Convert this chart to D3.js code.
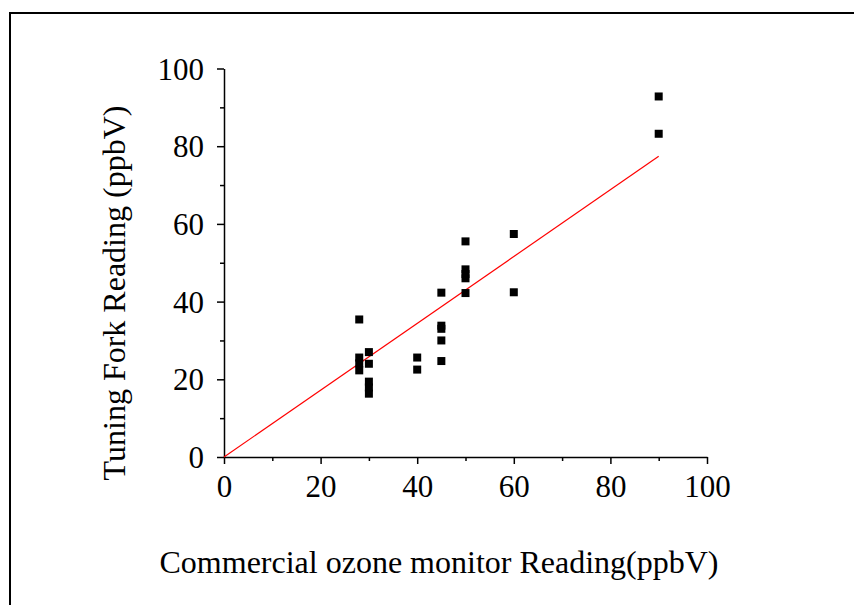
<!DOCTYPE html>
<html>
<head>
<meta charset="utf-8">
<script src="https://cdn.jsdelivr.net/npm/d3@7"></script>
<style>
  body { margin: 0; background: #fff; }
  svg text { font-family: "Liberation Serif", "Times New Roman", serif; fill: #000; }
</style>
</head>
<body>
<svg id="chart" width="854" height="605"></svg>
<script>
// commercial monitor reading (x) vs tuning fork reading (y), ppbV
const xVals = [28, 28, 28, 28, 30, 30, 30, 30, 30, 40, 40, 45, 45, 45, 45, 45, 50, 50, 50, 50, 50, 60, 60, 90, 90];
const yVals = [35.4, 25.6, 24.1, 22.3, 27.0, 24.0, 19.4, 17.9, 16.3, 25.6, 22.5, 42.3, 33.8, 33.0, 30.0, 24.7, 55.5, 48.3, 47.1, 46.0, 42.2, 57.4, 42.4, 92.8, 83.2];
// fitted line end points
const fitX = [0, 90];
const fitY = [0, 77.4];
const xTicks = [0, 20, 40, 60, 80, 100];
const yTicks = [0, 20, 40, 60, 80, 100];
const minorTicks = [10, 30, 50, 70, 90];

const svg = d3.select('#chart');
const margin = {top: 68.5, left: 224, right: 147, bottom: 148};
const width = 854 - margin.left - margin.right;
const height = 605 - margin.top - margin.bottom;

// outer frame (only top and left edges show)
svg.append('path')
    .attr('d', 'M10,605 L10,13 L854,13')
    .attr('fill', 'none')
    .attr('stroke', '#000')
    .attr('stroke-width', 2);

const g = svg.append('g')
    .attr('transform', `translate(${margin.left},${margin.top})`);

const x = d3.scaleLinear().domain([0, 100]).range([0, width]);
const y = d3.scaleLinear().domain([0, 100]).range([height, 0]);

// minor ticks
g.append('g')
    .attr('transform', `translate(0,${height})`)
    .call(d3.axisBottom(x).tickValues(minorTicks).tickSize(4).tickFormat(''))
    .call(a => a.select('.domain').remove());
g.append('g')
    .call(d3.axisLeft(y).tickValues(minorTicks).tickSize(4).tickFormat(''))
    .call(a => a.select('.domain').remove());

// major axes
const xAxis = g.append('g')
    .attr('transform', `translate(0,${height})`)
    .call(d3.axisBottom(x).tickValues(xTicks).tickSize(7).tickSizeOuter(0).tickPadding(11));
const yAxis = g.append('g')
    .call(d3.axisLeft(y).tickValues(yTicks).tickSize(7).tickSizeOuter(0).tickPadding(13));

g.selectAll('.domain, .tick line').attr('stroke', '#000').attr('stroke-width', 1.5);
xAxis.selectAll('text').attr('font-size', 31).attr('font-family', 'Liberation Serif').attr('dy', '0.72em');
yAxis.selectAll('text').attr('font-size', 31).attr('font-family', 'Liberation Serif').attr('dy', '0.34em');

// fit line
g.append('line')
    .attr('x1', x(fitX[0])).attr('y1', y(fitY[0]))
    .attr('x2', x(fitX[1])).attr('y2', y(fitY[1]))
    .attr('stroke', '#ff0000')
    .attr('stroke-width', 1.2);

// square markers
const s = 8;
g.selectAll('rect.pt')
    .data(xVals.map((v, i) => ({x: v, y: yVals[i]})))
    .enter().append('rect')
    .attr('class', 'pt')
    .attr('x', d => x(d.x) - s / 2)
    .attr('y', d => y(d.y) - s / 2)
    .attr('width', s)
    .attr('height', s)
    .attr('fill', '#000');

// axis titles
svg.append('text')
    .attr('x', 439)
    .attr('y', 573)
    .attr('text-anchor', 'middle')
    .attr('font-size', 32)
    .text('Commercial ozone monitor Reading(ppbV)');

svg.append('text')
    .attr('transform', 'translate(125,293) rotate(-90)')
    .attr('text-anchor', 'middle')
    .attr('font-size', 32)
    .text('Tuning Fork Reading (ppbV)');
</script>
</body>
</html>
